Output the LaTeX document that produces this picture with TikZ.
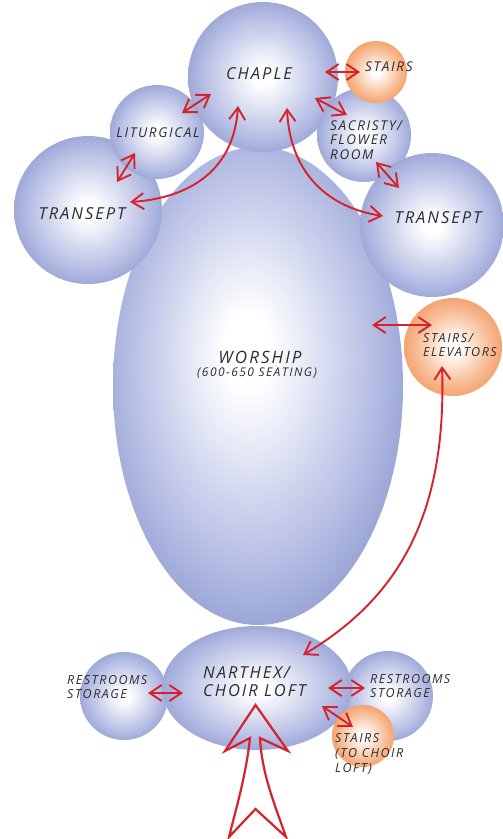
\documentclass[tikz,border=0pt]{standalone}
\usepackage{fontspec}
\setmainfont{Open Sans}
\usetikzlibrary{shapes.geometric,arrows.meta}
\definecolor{bblue}{RGB}{118,133,196}
\definecolor{bmid}{RGB}{182,190,228}
\definecolor{borange}{RGB}{238,130,66}
\definecolor{omid}{RGB}{248,186,146}
\definecolor{arrred}{RGB}{214,34,42}
\definecolor{ink}{RGB}{45,45,45}
\pgfdeclareradialshading{bluebub}{\pgfpoint{0bp}{0bp}}{color(0bp)=(white); color(3bp)=(white); color(20bp)=(bmid); color(34bp)=(bblue); color(50bp)=(bblue)}
\pgfdeclareradialshading{worshipbub}{\pgfpoint{-2bp}{4bp}}{color(0bp)=(white); color(4bp)=(white); color(21bp)=(bmid); color(35bp)=(bblue); color(50bp)=(bblue)}
\pgfdeclareradialshading{orangebub}{\pgfpoint{0bp}{0bp}}{color(0bp)=(white); color(3bp)=(white); color(19bp)=(omid); color(34bp)=(borange); color(50bp)=(borange)}
\newfontfamily\handfont{Open Sans}[LetterSpace=12]
\tikzset{
  bub/.style={circle, shade, shading=bluebub, inner sep=0pt, minimum size=#1},
  obub/.style={circle, shade, shading=orangebub, inner sep=0pt, minimum size=#1},
  oval/.style={ellipse, shade, shading=worshipbub, inner sep=0pt},
  lbl/.style={text=ink, inner sep=0pt, font=\handfont\itshape\fontsize{#1}{#1}\selectfont},
  lbll/.style 2 args={text=ink, inner sep=0pt, align=left, font=\handfont\itshape\fontsize{#1}{#2}\selectfont},
  link/.style={draw=arrred, line width=1.9pt, {Straight Barb[length=12pt,width=16pt]}-{Straight Barb[length=12pt,width=16pt]}},
  bigarrow/.style={draw=arrred, line width=2.2pt, line join=miter},
}
\begin{document}
\begin{tikzpicture}[x=1pt,y=-1pt]
\useasboundingbox (0,0) rectangle (503,839);
% bubbles
\node[oval, minimum width=290pt, minimum height=478pt] (worship) at (258,386) {};
\node[bub=148pt] (transL) at (88,210) {};
\node[bub=94pt] (liturg) at (157,132) {};
\node[bub=150pt] (chaple) at (263,77) {};
\node[bub=94pt] (sacr) at (364,135) {};
\node[obub=62pt] (stairsT) at (376,72) {};
\node[bub=144pt] (transR) at (432,225) {};
\node[obub=98pt] (stairsE) at (453,347) {};
\node[bub=88pt] (restL) at (124,696) {};
\node[bub=90pt] (restR) at (388,696) {};
\node[oval, shading=bluebub, minimum width=190pt, minimum height=124pt] (narthex) at (257,688) {};
\node[obub=62pt] (stairsC) at (363,736) {};
% labels
\node[lbl=16.5] (tChaple) at (259,74) {CHAPLE};
\node[lbl=13.5, anchor=west] (tStairsT) at (365,67) {STAIRS};
\node[lbll={13.5}{14.5}, anchor=west] (tSacr) at (330,140) {SACRISTY/\\FLOWER\\ROOM};
\node[lbl=13.5] (tLiturg) at (158,133) {LITURGICAL};
\node[lbl=16.5] (tTransL) at (82,214) {TRANSEPT};
\node[lbl=16.5] (tTransR) at (438,218) {TRANSEPT};
\node[lbll={12.5}{14.5}, anchor=west] (tStairsE) at (423,345) {STAIRS/\\ELEVATORS};
\node[lbl=17] (tWorship) at (260,357) {WORSHIP};
\node[lbl=12] (tSeating) at (257,373) {(600-650 SEATING)};
\node[lbll={16.5}{18}, anchor=west] (tNarthex) at (203,682) {NARTHEX/\\CHOIR LOFT};
\node[lbll={12.5}{14.5}, anchor=west] (tRestL) at (67,687) {RESTROOMS\\STORAGE};
\node[lbll={12.5}{14.5}, anchor=west] (tRestR) at (370,686) {RESTROOMS\\STORAGE};
\node[lbll={12.5}{15}, anchor=west] (tStairsC) at (335,754) {STAIRS\\(TO CHOIR\\LOFT)};
% connector ends
\coordinate (a1s) at (325,72);  \coordinate (a1e) at (360,72);
\coordinate (a2s) at (315,98);  \coordinate (a2e) at (347,115);
\coordinate (a3s) at (211,94);  \coordinate (a3e) at (182,113);
\coordinate (a4s) at (135,153); \coordinate (a4e) at (117,182);
\coordinate (a5s) at (238,106); \coordinate (a5e) at (130,202);
\coordinate (a6s) at (287,108); \coordinate (a6e) at (383,216);
\coordinate (a7s) at (376,162); \coordinate (a7e) at (399,188);
\coordinate (a8s) at (372,325); \coordinate (a8e) at (432,325);
\coordinate (a9s) at (442,366); \coordinate (a9e) at (303,655);
\coordinate (a10s) at (148,693); \coordinate (a10e) at (183,693);
\coordinate (a11s) at (328,688); \coordinate (a11e) at (365,688);
\coordinate (a12s) at (322,706); \coordinate (a12e) at (353,727);
% connectors
\draw[link] (a1s) -- (a1e);
\draw[link] (a2s) -- (a2e);
\draw[link] (a3s) -- (a3e);
\draw[link] (a4s) -- (a4e);
\draw[link] (a5s) .. controls (234,170) and (190,198) .. (a5e);
\draw[link] (a6s) .. controls (290,175) and (330,208) .. (a6e);
\draw[link] (a7s) -- (a7e);
\draw[link] (a8s) -- (a8e);
\draw[link] (a9s) .. controls (447,520) and (395,600) .. (a9e);
\draw[link] (a10s) -- (a10e);
\draw[link] (a11s) -- (a11e);
\draw[link] (a12s) -- (a12e);
% entrance arrow
\draw[bigarrow] (255.5,705) -- (225,751) -- (250,738)
  .. controls (246,775) and (237,805) .. (229,837)
  -- (255.5,809) -- (286,837)
  .. controls (275,805) and (262,775) .. (260,738)
  -- (288,751) -- cycle;
\end{tikzpicture}
\end{document}
